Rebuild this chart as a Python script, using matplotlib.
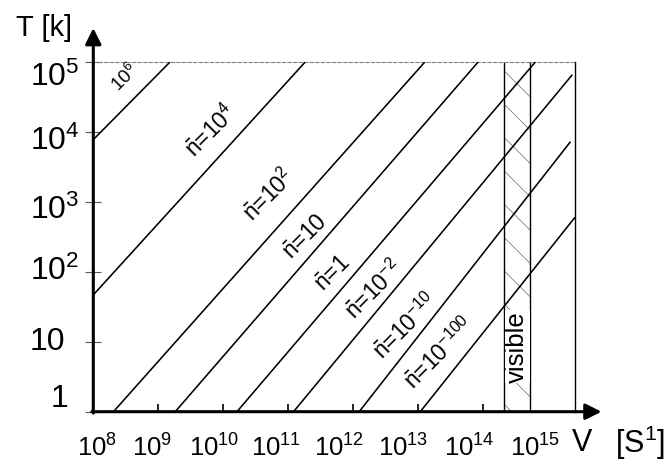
import matplotlib
matplotlib.use('Agg')
import matplotlib.pyplot as plt
from matplotlib.ticker import NullLocator, FixedLocator, NullFormatter
from matplotlib.transforms import blended_transform_factory, ScaledTranslation

plt.rcParams['font.family'] = ['Liberation Sans', 'DejaVu Sans']
plt.rcParams['mathtext.fontset'] = 'custom'
plt.rcParams['mathtext.rm'] = 'Liberation Sans'
plt.rcParams['mathtext.it'] = 'Liberation Sans:italic'
plt.rcParams['mathtext.bf'] = 'Liberation Sans:bold'
plt.rcParams['mathtext.sf'] = 'Liberation Sans'
plt.rcParams['hatch.linewidth'] = 0.6

# ---- data (log10 values) ----
line_names = [r'$10^{6}$', r'$\bar{\mathrm{n}}$=$10^{4}$', r'$\bar{\mathrm{n}}$=$10^{2}$',
              r'$\bar{\mathrm{n}}$=10', r'$\bar{\mathrm{n}}$=1', r'$\bar{\mathrm{n}}$=$10^{-2}$',
              r'$\bar{\mathrm{n}}$=$10^{-10}$', r'$\bar{\mathrm{n}}$=$10^{-100}$']
nu_start_log = [8.00, 8.00, 8.31, 9.26, 10.21, 11.08, 12.09, 13.03]
T_start_log = [3.89, 1.67, 0.00, 0.00, 0.00, 0.00, 0.00, 0.00]
nu_end_log = [9.18, 11.26, 13.10, 13.92, 14.80, 15.37, 15.34, 15.41]
T_end_log = [5.00, 5.00, 5.00, 5.00, 5.00, 4.82, 3.86, 2.78]
label_nu_log = [8.49, 9.81, 10.70, 11.26, 11.69, 12.32, 12.80, 13.33]
label_T_log = [4.78, 4.01, 3.10, 2.49, 1.97, 1.74, 1.21, 0.83]

visible_log = [14.32, 14.72]
x_tick_exps = [8, 9, 10, 11, 12, 13, 14, 15]
y_tick_exps = [0, 1, 2, 3, 4, 5]
y_tick_labels = ['1', '10', r'$10^{2}$', r'$10^{3}$', r'$10^{4}$', r'$10^{5}$']
x_max_log = 15.41

# label placement tweaks (pixels) to mimic the hand-set original
x_label_dx = [4, -6, -9, -12, -14, -15, -14, -13]
y_label_dy = [16, 3, 4, -5, -6, -12]

fig = plt.figure(figsize=(6.72, 4.65), dpi=100)
ax = fig.add_axes([93.3 / 672, (465 - 411.7) / 465, (575 - 93.3) / 672, (411.7 - 62) / 465])
ax.set_xscale('log')
ax.set_yscale('log')
ax.set_xlim(1e8, 10 ** x_max_log)
ax.set_ylim(1, 1e5)

# visible band
ax.axvspan(10 ** visible_log[0], 10 ** visible_log[1], facecolor='white',
           edgecolor='0.5', hatch='\\', linewidth=0, zorder=1)
for v in visible_log:
    ax.axvline(10 ** v, color='black', lw=1.0, zorder=2)
ax.text(10 ** ((visible_log[0] + visible_log[1]) / 2), 10 ** 0.93, 'visible',
        rotation=90, ha='center', va='center', fontsize=18.5, zorder=4,
        bbox=dict(facecolor='white', edgecolor='none', pad=0.3))

# lines of constant occupation number
for i in range(len(line_names)):
    ax.plot([10 ** nu_start_log[i], 10 ** nu_end_log[i]],
            [10 ** T_start_log[i], 10 ** T_end_log[i]],
            color='black', lw=1.15, zorder=3, solid_capstyle='butt')
    fs = 13.5 if i == 0 else 16.5
    ax.text(10 ** label_nu_log[i], 10 ** label_T_log[i], line_names[i],
            rotation=45, rotation_mode='anchor', ha='center', va='center',
            fontsize=fs, zorder=4)

# spines
ax.spines['left'].set_visible(False)
ax.spines['bottom'].set_visible(False)
ax.spines['top'].set_linestyle((0, (3, 2)))
ax.spines['top'].set_color('0.5')
ax.spines['top'].set_linewidth(0.8)
ax.spines['right'].set_linewidth(1.0)

# axis arrows
arrow_kw = dict(arrowstyle='-|>', lw=2.2, color='black', shrinkA=0, shrinkB=0,
                mutation_scale=24)
ax.annotate('', xy=(0, 1.097), xytext=(0, -0.004), xycoords='axes fraction',
            textcoords='axes fraction', arrowprops=arrow_kw, annotation_clip=False)
ax.annotate('', xy=(1.055, 0), xytext=(-0.003, 0), xycoords='axes fraction',
            textcoords='axes fraction', arrowprops=arrow_kw, annotation_clip=False)

# y ticks
ax.yaxis.set_major_locator(FixedLocator([10.0 ** e for e in y_tick_exps]))
ax.yaxis.set_major_formatter(NullFormatter())
ax.yaxis.set_minor_locator(NullLocator())
ax.yaxis.set_minor_formatter(NullFormatter())
ax.tick_params(axis='y', direction='inout', length=12, width=0.8, color='0.35', right=False)

ytrans = blended_transform_factory(ax.transAxes, ax.transData)
for e, lab, dy in zip(y_tick_exps, y_tick_labels, y_label_dy):
    if lab == '1':
        off = ScaledTranslation((68 - 93.3) / 100, dy / 100, fig.dpi_scale_trans)
        ha = 'right'
    else:
        off = ScaledTranslation((30 - 93.3) / 100, dy / 100, fig.dpi_scale_trans)
        ha = 'left'
    ax.text(0, 10.0 ** e, lab, transform=ytrans + off, ha=ha, va='center_baseline',
            fontsize=23, clip_on=False)

# x ticks
ax.xaxis.set_major_locator(FixedLocator([10.0 ** e for e in x_tick_exps]))
ax.xaxis.set_minor_locator(NullLocator())
ax.xaxis.set_major_formatter(NullFormatter())
ax.xaxis.set_minor_formatter(NullFormatter())
ax.tick_params(axis='x', direction='in', length=6, width=1.2, top=False)
ax.xaxis.get_major_ticks()[-1].tick1line.set_visible(False)

xtrans = blended_transform_factory(ax.transData, ax.transAxes)
for e, dx in zip(x_tick_exps, x_label_dx):
    off = ScaledTranslation(dx / 100, -23 / 100, fig.dpi_scale_trans)
    ax.text(10.0 ** e, 0, r'$10^{%d}$' % e, transform=xtrans + off, ha='center', va='top',
            fontsize=18.5, clip_on=False)

# axis titles
fig.text(582 / 672, 1 - 443 / 465, 'V', ha='center', va='center', fontsize=22)
fig.text(640 / 672, 1 - 443 / 465, r'[S$^{1}$]', ha='center', va='center', fontsize=22)
fig.text(44 / 672, 1 - 28 / 465, 'T [k]', ha='center', va='center', fontsize=21)

fig.savefig('out.png', dpi=100)
